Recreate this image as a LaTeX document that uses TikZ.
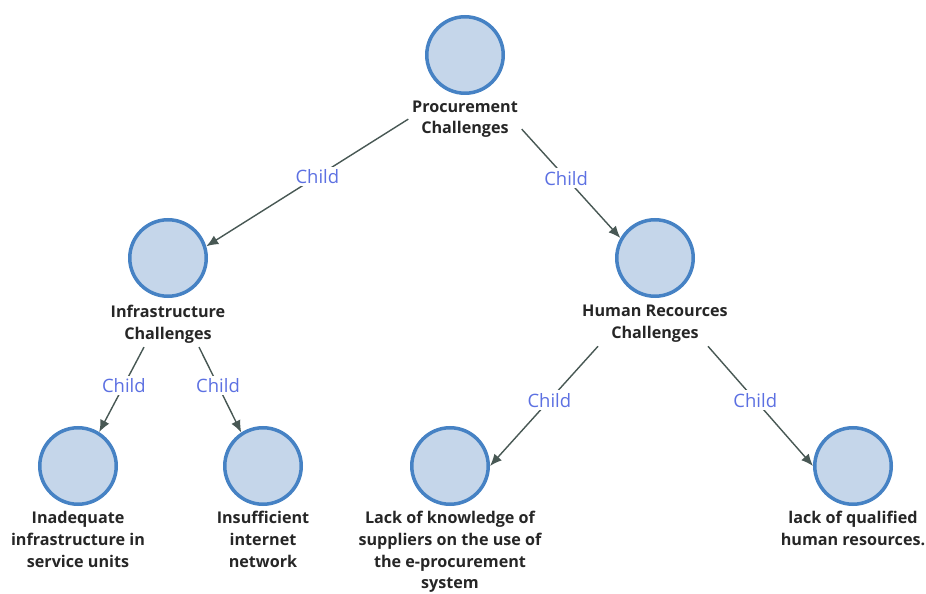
\documentclass[tikz,border=0pt]{standalone}
\usepackage{fontspec}
\setmainfont{Open Sans}
\usepackage{tikz}
\usetikzlibrary{positioning,calc,arrows.meta}
\definecolor{nodeFill}{RGB}{197,214,234}
\definecolor{nodeRim}{RGB}{70,130,196}
\definecolor{edgeGray}{RGB}{72,88,84}
\definecolor{childBlue}{RGB}{92,112,226}
\definecolor{labelInk}{RGB}{38,38,38}
\tikzset{
  topicCircle/.style={
    circle,
    draw=nodeRim,
    fill=nodeFill,
    line width=2pt,
    minimum size=1.53cm,
    inner sep=0pt
  },
  topicText/.style={
    text=labelInk,
    font=\fontsize{9.2}{12.3}\selectfont\bfseries,
    align=center,
    inner sep=2pt
  },
  childArrow/.style={
    -{Latex[length=2.4mm,width=2mm]},
    draw=edgeGray,
    line width=0.8pt
  },
  childLabel/.style={
    text=childBlue,
    font=\fontsize{10.5}{12}\selectfont,
    fill=white,
    inner sep=1.5pt,
    pos=0.45
  }
}

\begin{document}
\begin{tikzpicture}[x=0.02cm, y=-0.02cm]
        \useasboundingbox (0,0) rectangle (926,594);

        \node[topicCircle] (proc) at (465,55) {};
        \node[topicText, below=1pt of proc] (procText) {Procurement\\Challenges};

        \node[topicCircle] (infra) at (168,258) {};
        \node[topicText, below=2pt of infra] (infraText) {Infrastructure\\Challenges};
        \node[topicCircle] (hr) at (655,258) {};
        \node[topicText, below=2pt of hr] (hrText) {Human Recources\\Challenges};

        \node[topicCircle] (inad) at (78,466) {};
        \node[topicText, below=1pt of inad] (inadText) {Inadequate\\infrastructure in\\service units};
        \node[topicCircle] (insuf) at (263,466) {};
        \node[topicText, below=1pt of insuf] (insufText) {Insufficient\\internet\\network};
        \node[topicCircle] (lack) at (450,466) {};
        \node[topicText, below=1pt of lack] (lackText) {Lack of knowledge of\\suppliers on the use of\\the e-procurement\\system};
        \node[topicCircle] (qual) at (853,466) {};
        \node[topicText, below=1pt of qual] (qualText) {lack of qualified\\human resources.};

        \draw[childArrow] (procText.west) -- node[childLabel]{Child} (infra.17);
        \draw[childArrow] (procText.-10) -- node[childLabel]{Child} (hr.150);
        \draw[childArrow] ($(infraText.south)+(-24,0)$) -- node[childLabel]{Child} (inad.58);
        \draw[childArrow] ($(infraText.south)+(31,0)$) -- node[childLabel]{Child} (insuf.123);
        \draw[childArrow] ($(hrText.south)+(-57,0)$) -- node[childLabel]{Child} (lack.east);
        \draw[childArrow] ($(hrText.south)+(53,0)$) -- node[childLabel]{Child} (qual.west);
    \end{tikzpicture}
\end{document}
